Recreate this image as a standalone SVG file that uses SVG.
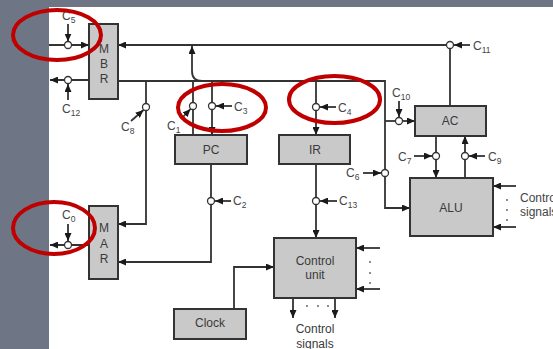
<svg xmlns="http://www.w3.org/2000/svg" width="553" height="349" viewBox="0 0 553 349">
<defs>
<marker id="ah" viewBox="0 0 8 7" refX="8" refY="3.5" markerWidth="8" markerHeight="7" markerUnits="userSpaceOnUse" orient="auto"><path d="M0,0 L8,3.5 L0,7 z" fill="#1a1a1a"/></marker>
</defs>
<style>
.box{fill:#c9c9c9;stroke:#333;stroke-width:2}
.w{fill:none;stroke:#333;stroke-width:1.8}
.a{marker-end:url(#ah)}
.j{fill:#fff;stroke:#333;stroke-width:1.3}
.t{font-family:"Liberation Sans",Arial,sans-serif;font-size:12px;fill:#3a3a3a;text-anchor:middle}
.c{font-family:"Liberation Sans",Arial,sans-serif;font-size:12px;fill:#444}
.s{font-size:8.5px}
.d{fill:#555}
.red{fill:none;stroke:#c00000;stroke-width:4}
</style>
<rect width="553" height="349" fill="#6e7686"/>
<rect x="49" y="7" width="504" height="342" fill="#fff"/>

<g id="connectors">
<path class="w a" d="M49,45 H89"/>
<path class="w a" d="M450,45 H118"/>
<path class="w" d="M450,45 V106"/>
<path class="w a" d="M89,80 H50"/>
<path class="w a" d="M118,81 H385 V208 H410"/>
<path class="w a" d="M385,121 H415"/>
<path class="w a" d="M316,81 V135"/>
<path class="w a" d="M212,81 V135"/>
<path class="w a" d="M193,135 V81 M202,81 Q192,81 192,71 V46"/>
<path class="w a" d="M146,81 V224 H118"/>
<path class="w a" d="M211,164 V262 H118"/>
<path class="w a" d="M89,245 H50"/>
<path class="w a" d="M316,164 V238"/>
<path class="w a" d="M436,136 V178"/>
<path class="w a" d="M465,178 V136"/>
<path class="w a" d="M234,309 V267 H274"/>
<path class="w a" d="M380,248 H356"/>
<path class="w a" d="M380,289 H356"/>
<path class="w a" d="M293,298 V318"/>
<path class="w a" d="M335,298 V318"/>
<path class="w a" d="M516,186 H493"/>
<path class="w a" d="M516,227 H493"/>

<g id="controls">
<path class="w a" d="M68,24 V41.5"/>
<path class="w a" d="M68,100 V84"/>
<path class="w a" d="M131,121 L143.5,110"/>
<path class="w a" d="M181,119 L190.5,109"/>
<path class="w a" d="M232,106 H216"/>
<path class="w a" d="M336,107 H320"/>
<path class="w a" d="M399,101 V117"/>
<path class="w a" d="M470,45 H454"/>
<path class="w a" d="M363,173 H381"/>
<path class="w a" d="M414,156 H432"/>
<path class="w a" d="M485,156 H469"/>
<path class="w a" d="M231,201 H215"/>
<path class="w a" d="M337,201 H320"/>
<path class="w a" d="M68,224 V241"/>
</g>

<g id="junctions">
<circle class="j" cx="68" cy="45" r="3.5"/>
<circle class="j" cx="68" cy="80" r="3.5"/>
<circle class="j" cx="146" cy="107" r="3.5"/>
<circle class="j" cx="193" cy="106" r="3.5"/>
<circle class="j" cx="212" cy="106" r="3.5"/>
<circle class="j" cx="316" cy="107" r="3.5"/>
<circle class="j" cx="450" cy="45" r="3.5"/>
<circle class="j" cx="399" cy="121" r="3.5"/>
<circle class="j" cx="385" cy="173" r="3.5"/>
<circle class="j" cx="436" cy="156" r="3.5"/>
<circle class="j" cx="465" cy="156" r="3.5"/>
<circle class="j" cx="211" cy="201" r="3.5"/>
<circle class="j" cx="316" cy="201" r="3.5"/>
<circle class="j" cx="68" cy="245" r="3.5"/>
</g>

<g id="control-labels">
<text class="c" x="62" y="20">C<tspan class="s" dy="3">5</tspan></text>
<text class="c" x="62" y="113">C<tspan class="s" dy="3">12</tspan></text>
<text class="c" x="121" y="131">C<tspan class="s" dy="3">8</tspan></text>
<text class="c" x="167" y="130">C<tspan class="s" dy="3">1</tspan></text>
<text class="c" x="234" y="111">C<tspan class="s" dy="3">3</tspan></text>
<text class="c" x="338" y="112">C<tspan class="s" dy="3">4</tspan></text>
<text class="c" x="392" y="97">C<tspan class="s" dy="3">10</tspan></text>
<text class="c" x="473" y="50">C<tspan class="s" dy="3">11</tspan></text>
<text class="c" x="346" y="177">C<tspan class="s" dy="3">6</tspan></text>
<text class="c" x="398" y="161">C<tspan class="s" dy="3">7</tspan></text>
<text class="c" x="488" y="161">C<tspan class="s" dy="3">9</tspan></text>
<text class="c" x="233" y="205">C<tspan class="s" dy="3">2</tspan></text>
<text class="c" x="339" y="205">C<tspan class="s" dy="3">13</tspan></text>
<text class="c" x="62" y="219">C<tspan class="s" dy="3">0</tspan></text>
</g>

<g id="dots">
<circle class="d" cx="370" cy="262" r="0.9"/><circle class="d" cx="370" cy="273" r="0.9"/><circle class="d" cx="370" cy="283" r="0.9"/>
<circle class="d" cx="307" cy="306" r="0.9"/><circle class="d" cx="318" cy="306" r="0.9"/><circle class="d" cx="328" cy="306" r="0.9"/>
<circle class="d" cx="507" cy="200" r="0.9"/><circle class="d" cx="507" cy="210" r="0.9"/><circle class="d" cx="507" cy="220" r="0.9"/>
</g>
<text class="t" x="315" y="333" font-size="11">Control</text>
<text class="t" x="315" y="348" font-size="11">signals</text>
<text class="c" x="520" y="202" font-size="11">Control</text>
<text class="c" x="520" y="216" font-size="11">signals</text>
</g>

<g id="MBR"><rect class="box" x="89" y="24" width="29" height="75"/>
<text class="t" x="104" y="53">M</text><text class="t" x="104" y="68">B</text><text class="t" x="104" y="83">R</text></g>
<g id="MAR"><rect class="box" x="89" y="206" width="29" height="73"/>
<text class="t" x="104" y="232">M</text><text class="t" x="104" y="248">A</text><text class="t" x="104" y="263">R</text></g>
<g id="PC"><rect class="box" x="175" y="135" width="72" height="29"/><text class="t" x="211" y="154">PC</text></g>
<g id="IR"><rect class="box" x="279" y="135" width="71" height="29"/><text class="t" x="315" y="154">IR</text></g>
<g id="AC"><rect class="box" x="415" y="106" width="71" height="30"/><text class="t" x="450" y="125">AC</text></g>
<g id="ALU"><rect class="box" x="410" y="178" width="83" height="58"/><text class="t" x="451" y="212">ALU</text></g>
<g id="ControlUnit"><rect class="box" x="274" y="238" width="82" height="60"/>
<text class="t" x="315" y="265">Control</text><text class="t" x="315" y="279">unit</text></g>
<g id="Clock"><rect class="box" x="174" y="309" width="72" height="30"/><text class="t" x="210" y="327">Clock</text></g>

<g id="annotations">
<ellipse class="red" cx="57" cy="35" rx="44" ry="25"/>
<ellipse class="red" cx="54" cy="228" rx="41" ry="26"/>
<ellipse class="red" cx="222" cy="107.5" rx="44" ry="23.5"/>
<ellipse class="red" cx="334.5" cy="99.5" rx="45.5" ry="23.5"/>
</g>
</svg>
